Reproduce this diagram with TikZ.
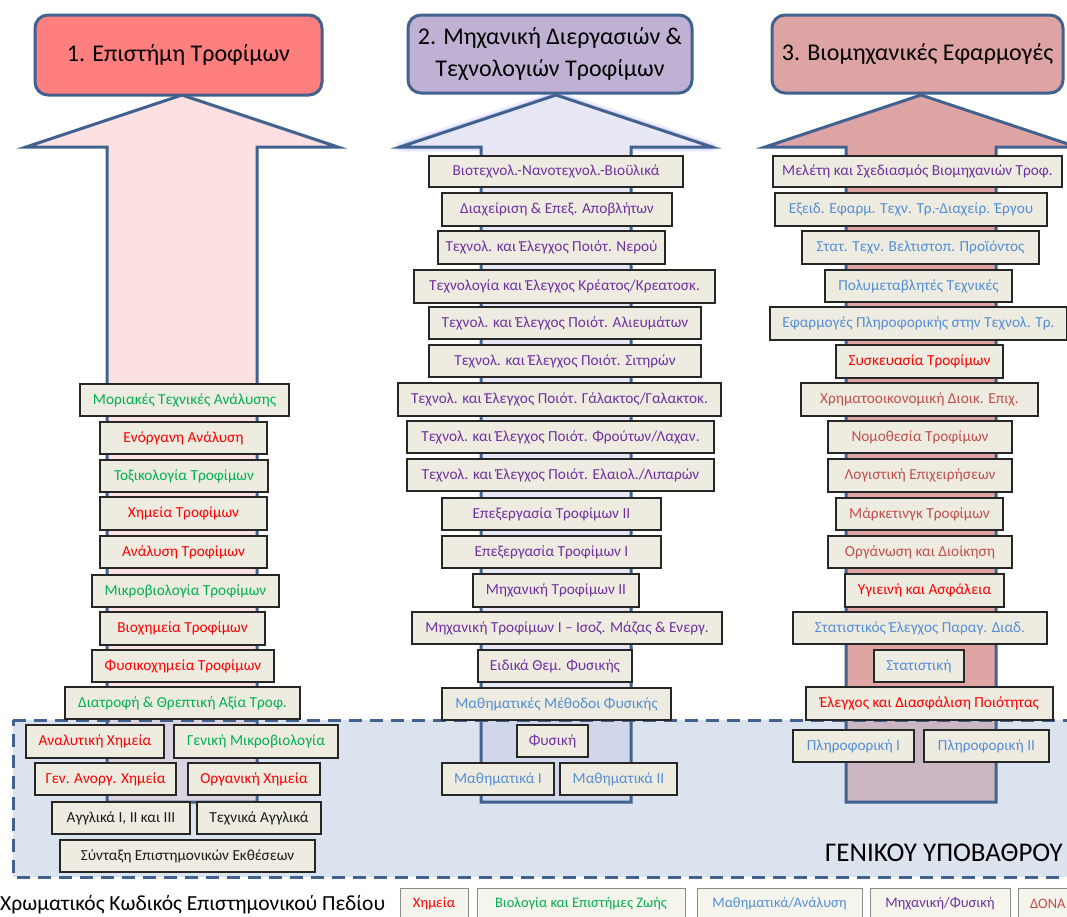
\documentclass[tikz,border=0pt]{standalone}
\usepackage{fontspec}
\setmainfont{Carlito}
\usetikzlibrary{calc}
\definecolor{edge}{HTML}{41618F}
\definecolor{hdrA}{HTML}{FF7F7F}
\definecolor{hdrB}{HTML}{BFB1D3}
\definecolor{hdrC}{HTML}{DDA4A3}
\definecolor{arrA}{HTML}{FDE0E1}
\definecolor{arrB}{HTML}{E8E7F5}
\definecolor{arrC}{HTML}{DFA5A4}
\definecolor{boxfill}{HTML}{EEECE1}
\definecolor{regfill}{HTML}{B9C9E1}
\definecolor{cred}{HTML}{FF0000}
\definecolor{cgreen}{HTML}{00B050}
\definecolor{cblue}{HTML}{558ED5}
\definecolor{cpurple}{HTML}{7030A0}
\definecolor{cbrown}{HTML}{C0504D}
\definecolor{cdark}{HTML}{1A1A1A}
\tikzset{
  box/.style={draw=black!85,line width=1.4pt,fill=boxfill,inner sep=0pt,font=\fontsize{15.3}{17}\selectfont},
  lbox/.style={draw=black!45,line width=1pt,fill=boxfill!60,inner sep=0pt,font=\fontsize{14.5}{16}\selectfont},
  hdr/.style={draw=edge,line width=3pt,rounded corners=13pt,inner sep=0pt,font=\fontsize{24}{32}\selectfont,align=center},
  bigarrow/.style={draw=edge,line width=3pt,line join=miter}
}
\newcommand\bx[7]{\node[box,text=#6,minimum width={#4-#2},minimum height={#5-#3}] (#1) at ({(#2+#4)/2},{(#3+#5)/2}) {#7};}
\newcommand\arrowpath[1]{(#1,95) -- ({#1+156},147) -- ({#1+75},147) -- ({#1+75},802) -- ({#1-75},802) -- ({#1-75},147) -- ({#1-156},147) -- cycle}
\begin{document}
\begin{tikzpicture}[x=1pt,y=-1pt]
\useasboundingbox (0,0) rectangle (1067,916);
\clip (0,0) rectangle (1067,916);
\fill[white] (0,0) rectangle (1067,916);

% big arrows
\draw[blue!40,line width=9pt,opacity=0.18,line join=round] (556,95) -- (712,147) -- (400,147) -- cycle;
\draw[blue!40,line width=5pt,opacity=0.25,line join=round] (556,95) -- (712,147) -- (400,147) -- cycle;
\fill[arrA] \arrowpath{182};
\fill[arrB] \arrowpath{556};
\fill[arrC] \arrowpath{921};

% general background region
\fill[regfill,fill opacity=0.5] (13,720) rectangle (1080,877);
\draw[bigarrow] \arrowpath{182};
\draw[bigarrow] \arrowpath{556};
\draw[bigarrow] \arrowpath{921};
\draw[edge,line width=3pt,dash pattern=on 13pt off 8pt] (13,720) -- (1080,720);
\draw[edge,line width=3pt,dash pattern=on 13pt off 8pt] (1080,877) -- (13,877) -- (13,720);
\node[anchor=east,inner sep=0pt,font=\fontsize{27}{30}\selectfont] (genbg) at (1063,853) {ΓΕΝΙΚΟΥ ΥΠΟΒΑΘΡΟΥ};

% headers
\node[hdr,fill=hdrA,minimum width=287pt,minimum height=80pt] (h1) at (178.5,55) {1. Επιστήμη Τροφίμων};
\node[hdr,fill=hdrB,minimum width=284pt,minimum height=78pt] (h2) at (550,54) {2. Μηχανική Διεργασιών \&\\Τεχνολογιών Τροφίμων};
\node[hdr,fill=hdrC,minimum width=291pt,minimum height=78pt] (h3) at (917.5,54) {3. Βιομηχανικές Εφαρμογές};

% column 1
\bx{a1}{80}{384}{289}{416}{cgreen}{Μοριακές Τεχνικές Ανάλυσης}
\bx{a2}{100}{422}{267}{454}{cred}{Ενόργανη Ανάλυση}
\bx{a3}{100}{460}{268}{492}{cgreen}{Τοξικολογία Τροφίμων}
\bx{a4}{100}{497}{267}{530}{cred}{Χημεία Τροφίμων}
\bx{a5}{100}{536}{267}{568}{cred}{Ανάλυση Τροφίμων}
\bx{a6}{92}{575}{279}{607}{cgreen}{Μικροβιολογία Τροφίμων}
\bx{a7}{100}{612}{265}{645}{cred}{Βιοχημεία Τροφίμων}
\bx{a8}{92}{650}{274}{682}{cred}{Φυσικοχημεία Τροφίμων}
\bx{a9}{65}{687}{300}{719}{cgreen}{Διατροφή \& Θρεπτική Αξία Τροφ.}
\bx{a10}{26}{725}{164}{758}{cred}{Αναλυτική Χημεία}
\bx{a11}{174}{725}{338}{758}{cgreen}{Γενική Μικροβιολογία}
\bx{a12}{35}{763}{176}{795}{cred}{Γεν. Ανοργ. Χημεία}
\bx{a13}{188}{763}{320}{795}{cred}{Οργανική Χημεία}
\bx{a14}{52}{802}{190}{834}{cdark}{Αγγλικά Ι, ΙΙ και ΙΙΙ}
\bx{a15}{197}{802}{321}{834}{cdark}{Τεχνικά Αγγλικά}
\bx{a16}{60}{840}{315}{872}{cdark}{Σύνταξη Επιστημονικών Εκθέσεων}

% column 2
\bx{b1}{429}{156}{683}{187}{cpurple}{Βιοτεχνολ.-Νανοτεχνολ.-Βιοϋλικά}
\bx{b2}{442}{193}{672}{226}{cpurple}{Διαχείριση \& Επεξ. Αποβλήτων}
\bx{b3}{438}{231}{665}{264}{cpurple}{Τεχνολ. και Έλεγχος Ποιότ. Νερού}
\bx{b4}{414}{270}{715}{303}{cpurple}{Τεχνολογία και Έλεγχος Κρέατος/Κρεατοσκ.}
\bx{b5}{429}{307}{701}{339}{cpurple}{Τεχνολ. και Έλεγχος Ποιότ. Αλιευμάτων}
\bx{b6}{429}{345}{701}{377}{cpurple}{Τεχνολ. και Έλεγχος Ποιότ. Σιτηρών}
\bx{b7}{398}{383}{721}{416}{cpurple}{Τεχνολ. και Έλεγχος Ποιότ. Γάλακτος/Γαλακτοκ.}
\bx{b8}{407}{421}{714}{453}{cpurple}{Τεχνολ. και Έλεγχος Ποιότ. Φρούτων/Λαχαν.}
\bx{b9}{407}{459}{714}{491}{cpurple}{Τεχνολ. και Έλεγχος Ποιότ. Ελαιολ./Λιπαρών}
\bx{b10}{442}{498}{661}{530}{cpurple}{Επεξεργασία Τροφίμων ΙΙ}
\bx{b11}{442}{536}{661}{568}{cpurple}{Επεξεργασία Τροφίμων Ι}
\bx{b12}{473}{574}{639}{607}{cpurple}{Μηχανική Τροφίμων ΙΙ}
\bx{b13}{412}{612}{722}{644}{cpurple}{Μηχανική Τροφίμων Ι – Ισοζ. Μάζας \& Ενεργ.}
\bx{b14}{478}{650}{632}{682}{cpurple}{Ειδικά Θεμ. Φυσικής}
\bx{b15}{442}{688}{671}{720}{cblue}{Μαθηματικές Μέθοδοι Φυσικής}
\bx{b16}{517}{725}{588}{757}{cpurple}{Φυσική}
\bx{b17}{442}{763}{554}{795}{cblue}{Μαθηματικά Ι}
\bx{b18}{560}{763}{677}{795}{cblue}{Μαθηματικά ΙΙ}

% column 3
\bx{c1}{773}{156}{1062}{187}{cpurple}{Μελέτη και Σχεδιασμός Βιομηχανιών Τροφ.}
\bx{c2}{775}{193}{1047}{226}{cblue}{Εξειδ. Εφαρμ. Τεχν. Τρ.-Διαχείρ. Έργου}
\bx{c3}{802}{231}{1039}{264}{cblue}{Στατ. Τεχν. Βελτιστοπ. Προϊόντος}
\bx{c4}{825}{270}{1012}{302}{cblue}{Πολυμεταβλητές Τεχνικές}
\bx{c5}{770}{307}{1067}{340}{cblue}{Εφαρμογές Πληροφορικής στην Τεχνολ. Τρ.}
\bx{c6}{836}{345}{1003}{378}{cred}{Συσκευασία Τροφίμων}
\bx{c7}{801}{383}{1038}{416}{cbrown}{Χρηματοοικονομική Διοικ. Επιχ.}
\bx{c8}{828}{421}{1012}{453}{cbrown}{Νομοθεσία Τροφίμων}
\bx{c9}{828}{459}{1012}{492}{cbrown}{Λογιστική Επιχειρήσεων}
\bx{c10}{836}{498}{1003}{530}{cbrown}{Μάρκετινγκ Τροφίμων}
\bx{c11}{828}{536}{1012}{568}{cbrown}{Οργάνωση και Διοίκηση}
\bx{c12}{845}{574}{1004}{607}{cred}{Υγιεινή και Ασφάλεια}
\bx{c13}{793}{612}{1047}{644}{cblue}{Στατιστικός Έλεγχος Παραγ. Διαδ.}
\bx{c14}{874}{650}{964}{682}{cblue}{Στατιστική}
\bx{c15}{806}{687}{1053}{720}{cred}{Έλεγχος και Διασφάλιση Ποιότητας}
\bx{c16}{793}{730}{914}{762}{cblue}{Πληροφορική Ι}
\bx{c17}{924}{730}{1049}{762}{cblue}{Πληροφορική ΙΙ}

% legend
\node[anchor=west,inner sep=0pt,font=\fontsize{21.5}{24}\selectfont] (legtitle) at (0,905) {Χρωματικός Κωδικός Επιστημονικού Πεδίου};
\node[lbox,text=cred,minimum width=68pt,minimum height=32pt] (l1) at (434,904) {Χημεία};
\node[lbox,text=cgreen,minimum width=208pt,minimum height=32pt] (l2) at (581,904) {Βιολογία και Επιστήμες Ζωής};
\node[lbox,text=cblue,minimum width=165pt,minimum height=32pt] (l3) at (779.5,904) {Μαθηματικά/Ανάλυση};
\node[lbox,text=cpurple,minimum width=140pt,minimum height=32pt] (l4) at (940,904) {Μηχανική/Φυσική};
\node[lbox,minimum width=62pt,minimum height=32pt] (l5) at (1049,904) {};
\node[anchor=west,inner sep=0pt,text=cbrown,font=\fontsize{14.5}{16}\selectfont] (l5t) at (1030,904) {ΔΟΝΑ};
\end{tikzpicture}
\end{document}
